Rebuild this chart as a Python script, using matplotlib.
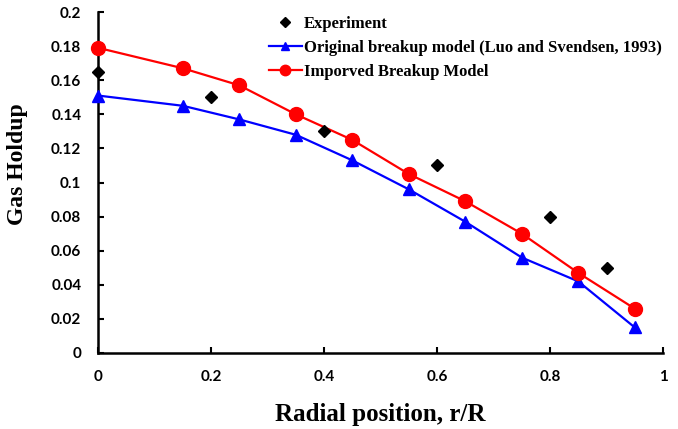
import matplotlib.pyplot as plt

# radial positions and gas holdup values
r_model = [0.0, 0.15, 0.25, 0.35, 0.45, 0.55, 0.65, 0.75, 0.85, 0.95]
holdup_original = [0.151, 0.145, 0.137, 0.128, 0.113, 0.096, 0.077, 0.056, 0.042, 0.015]
holdup_improved = [0.179, 0.167, 0.157, 0.140, 0.125, 0.105, 0.089, 0.070, 0.047, 0.026]
r_exp = [0.0, 0.2, 0.4, 0.6, 0.8, 0.9]
holdup_exp = [0.165, 0.150, 0.130, 0.110, 0.080, 0.050]

xticks = [0, 0.2, 0.4, 0.6, 0.8, 1]
xtick_labels = ["0", "0.2", "0.4", "0.6", "0.8", "1"]
yticks = [0, 0.02, 0.04, 0.06, 0.08, 0.1, 0.12, 0.14, 0.16, 0.18, 0.2]
ytick_labels = ["0", "0.02", "0.04", "0.06", "0.08", "0.1", "0.12", "0.14", "0.16", "0.18", "0.2"]

serif = "Liberation Serif"
sans = "Lato"

fig = plt.figure(figsize=(6.78, 4.29), dpi=100)
ax = fig.add_axes([98 / 678, 1 - 353 / 429, (663 - 98) / 678, (353 - 12) / 429])

ax.plot(r_exp, holdup_exp, linestyle="none", marker="D", color="black",
        markersize=6.5, label="Experiment", zorder=4, clip_on=False)
ax.plot(r_model, holdup_original, color="blue", linewidth=1.6, marker="^",
        markersize=8.5, label="Original breakup model (Luo and Svendsen, 1993)",
        zorder=3, clip_on=False)
ax.plot(r_model, holdup_improved, color="red", linewidth=1.6, marker="o",
        markersize=10, label="Imporved Breakup Model", zorder=3, clip_on=False)

ax.set_xlim(0, 1)
ax.set_ylim(0, 0.2)
ax.set_xticks(xticks)
ax.set_xticklabels(xtick_labels)
ax.set_yticks(yticks)
ax.set_yticklabels(ytick_labels)
for lab in ax.get_xticklabels() + ax.get_yticklabels():
    lab.set_fontfamily(sans)
    lab.set_fontweight("bold")
    lab.set_fontsize(11)
ax.tick_params(direction="in", length=4, width=1.5)
ax.tick_params(axis="y", pad=12)
ax.tick_params(axis="x", pad=12)

for side in ["top", "right"]:
    ax.spines[side].set_visible(False)
for side in ["left", "bottom"]:
    ax.spines[side].set_linewidth(1.8)

ax.set_xlabel("Radial position, r/R", fontfamily=serif, fontweight="bold",
              fontsize=18, labelpad=14)
ax.set_ylabel("Gas Holdup", fontfamily=serif, fontweight="bold", fontsize=17)
ax.yaxis.set_label_coords(-0.124, 0.554)

ax.legend(loc="upper left", bbox_to_anchor=(0.29, 1.009), frameon=False,
          prop={"family": serif, "weight": "bold", "size": 12},
          handlelength=2.0, handletextpad=0.1, labelspacing=0.48,
          borderaxespad=0, markerscale=0.75)

fig.savefig("out.png", dpi=100)
